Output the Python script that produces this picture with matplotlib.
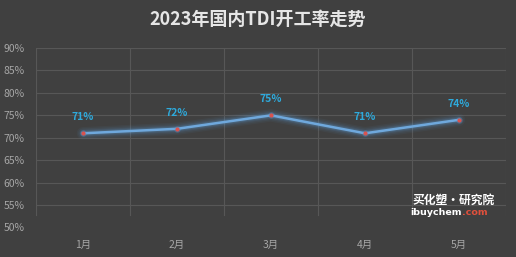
import numpy as np
import matplotlib.pyplot as plt

plt.rcParams['font.family'] = ['Noto Sans CJK SC', 'DejaVu Sans']

# data
months = ['1月', '2月', '3月', '4月', '5月']
rates = [71, 72, 75, 71, 74]
yticks = [50, 55, 60, 65, 70, 75, 80, 85, 90]

bg = '#404040'
fig = plt.figure(figsize=(5.16, 2.57), dpi=100, facecolor=bg)
ax = fig.add_axes([0.0698, 0.1148, 0.9108, 0.6982], facecolor=bg)

x = np.arange(len(months))
ax.set_xlim(-0.5, len(months) - 0.5)
ax.set_ylim(50, 90)

# grid
for v in yticks[1:]:
    ax.axhline(v, color='#575757', lw=0.8, zorder=0)
for b in np.arange(-0.5, len(months), 1.0):
    ax.axvline(b, ymin=0.07, ymax=1, color='#575757', lw=0.8, zorder=0)

# glowing line
for w, a in [(9, 0.06), (7, 0.08), (5, 0.12), (3.5, 0.2)]:
    ax.plot(x, rates, color='#5b9bd5', lw=w, alpha=a, solid_capstyle='round', zorder=2)
ax.plot(x, rates, color='#6fa8dc', lw=1.8, zorder=3)
ax.scatter(x, rates, s=22, color='#5b9bd5', alpha=0.3, zorder=3, lw=0)
ax.scatter(x, rates, s=9, color='#d9534f', zorder=4, lw=0)

for xi, r in zip(x, rates):
    ax.annotate(f'{r}%', (xi, r), xytext=(0, 8), textcoords='offset points',
                ha='center', va='bottom', color='#2eaadc', fontsize=7.5,
                fontweight='bold')

ax.set_yticks(yticks)
ax.set_yticklabels([f'{v}%' for v in yticks])
ax.set_xticks(x)
ax.set_xticklabels(months)
ax.tick_params(length=0, colors='#a6a6a6', labelsize=7.5)
ax.tick_params(axis='y', pad=8)
ax.tick_params(axis='x', pad=9)
for s in ax.spines.values():
    s.set_visible(False)

fig.text(0.5, 0.925, '2023年国内TDI开工率走势', ha='center', va='center',
         color='#e6e6e6', fontsize=13, fontweight='bold')

# watermark
fig.text(0.88, 0.222, '买化塑·研究院', ha='center', va='center', color='white',
         fontsize=8.5, fontweight='bold', style='italic')
wm = fig.text(0.795, 0.172, 'ibuychem', ha='left', va='center', color='white',
              fontsize=6.8, fontweight='bold', family='DejaVu Sans')
fig.canvas.draw()
bb = wm.get_window_extent().transformed(fig.transFigure.inverted())
fig.text(bb.x1, 0.172, '.com', ha='left', va='center', color='#e0503c',
         fontsize=6.8, fontweight='bold', family='DejaVu Sans')

plt.savefig('out.png', dpi=100, facecolor=bg)
